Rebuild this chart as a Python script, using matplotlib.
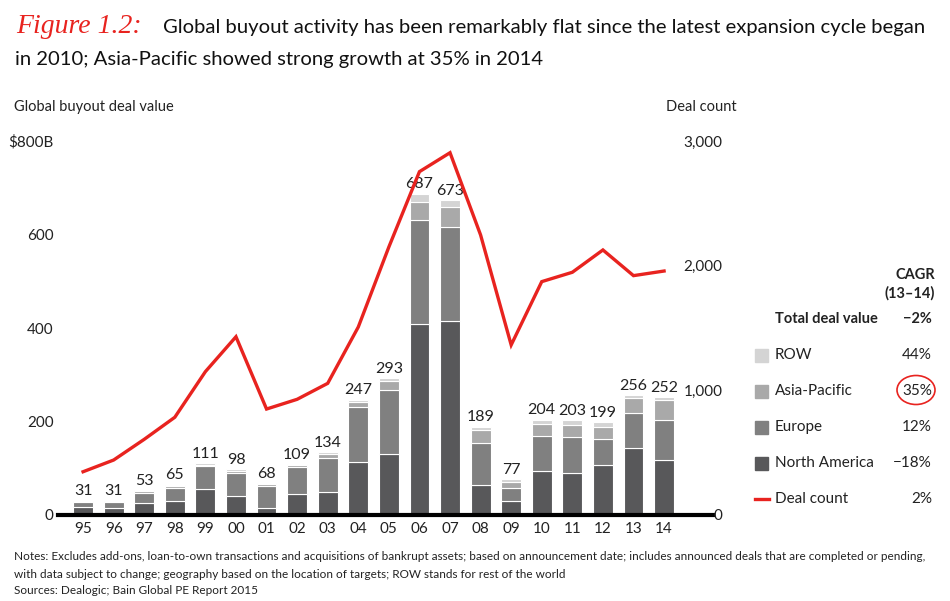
import matplotlib
matplotlib.use("Agg")
import matplotlib.pyplot as plt
from matplotlib.patches import Rectangle, Ellipse
from matplotlib.lines import Line2D
import numpy as np

plt.rcParams['font.family'] = ['Lato', 'DejaVu Sans']

years = ['95', '96', '97', '98', '99', '00', '01', '02', '03', '04',
         '05', '06', '07', '08', '09', '10', '11', '12', '13', '14']
totals = [31, 31, 53, 65, 111, 98, 68, 109, 134, 247,
          293, 687, 673, 189, 77, 204, 203, 199, 256, 252]
north_america = [18, 16, 26, 31, 56, 41, 16, 45, 50, 114,
                 130, 409, 415, 64, 30, 94, 89, 107, 143, 117]
europe = [9, 12, 22, 27, 48, 48, 47, 57, 72, 117,
          137, 222, 202, 91, 28, 74, 78, 56, 76, 86]
asia_pacific = [2, 2, 3, 4, 4, 6, 3, 4, 8, 11,
                20, 39, 42, 26, 13, 26, 26, 26, 32, 42]
deal_count = [347, 441, 607, 784, 1150, 1430, 850, 928, 1056, 1508,
              2150, 2754, 2906, 2246, 1364, 1872, 1947, 2126, 1920, 1957]
row = [t - n - e - a for t, n, e, a in zip(totals, north_america, europe, asia_pacific)]

legend_labels = ['ROW', 'Asia-Pacific', 'Europe', 'North America', 'Deal count']
legend_cagr = ['44%', '35%', '12%', '\u221218%', '2%']
total_cagr = '\u22122%'

c_na, c_eu, c_ap, c_row = '#58585a', '#808080', '#a9a9a9', '#d4d4d4'
red = '#e8231f'
W, H = 950, 601

fig = plt.figure(figsize=(9.5, 6.01), dpi=100)

def fx(px):
    return px / W

def fy(py):
    return 1 - py / H

ax = fig.add_axes([fx(58), fy(515), fx(713) - fx(58), fy(141) - fy(515)])
x = np.arange(len(years))
bw = 0.65
kw = dict(width=bw, edgecolor='white', linewidth=0.8)
ax.bar(x, north_america, color=c_na, **kw)
b1 = np.array(north_america)
ax.bar(x, europe, bottom=b1, color=c_eu, **kw)
b2 = b1 + np.array(europe)
ax.bar(x, asia_pacific, bottom=b2, color=c_ap, **kw)
b3 = b2 + np.array(asia_pacific)
ax.bar(x, row, bottom=b3, color=c_row, **kw)

for xi, t in zip(x, totals):
    ax.text(xi, t + 5, str(t), ha='center', va='bottom', fontsize=11.5, color='#222222')

ax.set_xlim(-0.82, 20.6)
ax.set_ylim(0, 800)
ax.set_yticks([0, 200, 400, 600, 800])
ax.set_yticklabels(['0', '200', '400', '600', '$800B'])
ax.set_xticks(x)
ax.set_xticklabels(years)
ax.tick_params(axis='both', length=0, labelsize=11, colors='#222222')
ax.tick_params(axis='y', pad=3)
ax.tick_params(axis='x', pad=5)
for s in ['top', 'right', 'left']:
    ax.spines[s].set_visible(False)
ax.spines['bottom'].set_linewidth(3)
ax.spines['bottom'].set_color('black')
ax.patch.set_visible(False)

ax2 = ax.twinx()
ax2.plot(x, deal_count, color=red, linewidth=2.4, solid_joinstyle='miter')
ax2.set_ylim(0, 3000)
ax2.set_yticks([0, 1000, 2000, 3000])
ax2.set_yticklabels(['0', '1,000', '2,000', '3,000'])
ax2.tick_params(axis='y', length=0, labelsize=11, colors='#222222', pad=7)
for lbl in ax2.get_yticklabels():
    lbl.set_horizontalalignment('right')
for s in ['top', 'right', 'left', 'bottom']:
    ax2.spines[s].set_visible(False)

# titles
fig.text(fx(16), fy(33), 'Figure 1.2:', color=red, fontsize=20, style='italic',
         family=['Liberation Serif', 'DejaVu Serif'], va='baseline')
fig.text(fx(163), fy(33), 'Global buyout activity has been remarkably flat since the latest expansion cycle began',
         fontsize=14.6, color='#111111', va='baseline')
fig.text(fx(15), fy(65), 'in 2010; Asia-Pacific showed strong growth at 35% in 2014',
         fontsize=14.6, color='#111111', va='baseline')
fig.text(fx(14), fy(107), 'Global buyout deal value', fontsize=10.5, va='center', color='#222222')
fig.text(fx(737), fy(107), 'Deal count', fontsize=10.5, va='center', ha='right', color='#222222')

# legend
fig.text(fx(935), fy(275), 'CAGR', fontsize=10.5, weight='bold', ha='right', va='center', color='#222222')
fig.text(fx(935), fy(293), '(13\u201314)', fontsize=10.5, weight='bold', ha='right', va='center', color='#222222')
fig.text(fx(775), fy(319), 'Total deal value', fontsize=10.5, weight='bold', va='center', color='#222222')
fig.text(fx(932), fy(319), total_cagr, fontsize=10.5, weight='bold', ha='right', va='center', color='#222222')

leg_colors = [c_row, c_ap, c_eu, c_na, red]
for i, (lab, val, col) in enumerate(zip(legend_labels, legend_cagr, leg_colors)):
    yc = 355 + i * 36
    if lab == 'Deal count':
        fig.add_artist(Line2D([fx(755), fx(769)], [fy(yc), fy(yc)], color=col, linewidth=2.4))
    else:
        fig.add_artist(Rectangle((fx(755), fy(yc + 6.5)), fx(13), 13 / H, color=col))
    fig.text(fx(775), fy(yc), lab, fontsize=11, va='center', color='#222222')
    fig.text(fx(932), fy(yc), val, fontsize=11, va='center', ha='right', color='#222222')

fig.add_artist(Ellipse((fx(916), fy(390)), fx(38), 29 / H, fill=False, edgecolor=red, linewidth=1.2))

# notes
notes = ['Notes: Excludes add-ons, loan-to-own transactions and acquisitions of bankrupt assets; based on announcement date; includes announced deals that are completed or pending,',
         'with data subject to change; geography based on the location of targets; ROW stands for rest of the world',
         'Sources: Dealogic; Bain Global PE Report 2015']
for i, n in enumerate(notes):
    fig.text(fx(14), fy(557 + i * 17), n, fontsize=8.5, va='center', color='#222222')

fig.savefig('out.png', dpi=100)
